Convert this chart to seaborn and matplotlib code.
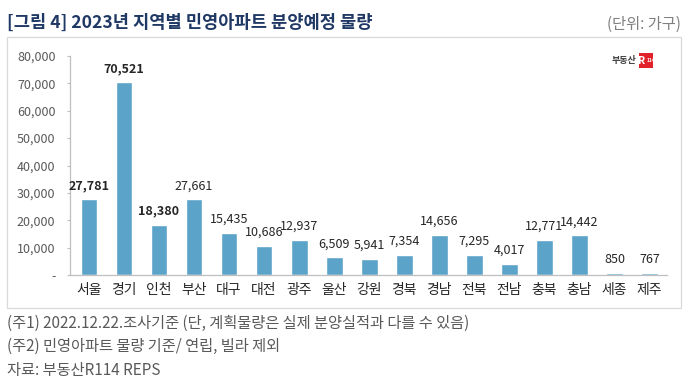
import matplotlib
matplotlib.use("Agg")
import matplotlib.pyplot as plt
from matplotlib.patches import Rectangle
import seaborn as sns
import pandas as pd

regions = ['서울', '경기', '인천', '부산', '대구', '대전', '광주', '울산', '강원',
           '경북', '경남', '전북', '전남', '충북', '충남', '세종', '제주']
units = [27781, 70521, 18380, 27661, 15435, 10686, 12937, 6509, 5941,
         7354, 14656, 7295, 4017, 12771, 14442, 850, 767]
bold_regions = ['서울', '경기', '인천']
y_ticks = [0, 10000, 20000, 30000, 40000, 50000, 60000, 70000, 80000]

sns.set_theme(style="white")
plt.rcParams['font.family'] = ['Noto Sans CJK KR', 'DejaVu Sans']

df = pd.DataFrame({'region': regions, 'units': units})

fig = plt.figure(figsize=(6.89, 3.87), dpi=100)
ax = fig.add_axes([0.1016, 0.2894, 0.8664, 0.5659])

sns.barplot(data=df, x='region', y='units', color='#5BA3C8', width=0.48,
            saturation=1, ax=ax)

ax.set_xlim(-0.54, 16.5)
ax.set_ylim(0, 80000)
ax.set_yticks(y_ticks)
ax.set_yticklabels(['-' if v == 0 else f'{v:,}' for v in y_ticks],
                   fontsize=9, color='#595959')
ax.tick_params(axis='y', length=2.5, width=0.8, color='#bfbfbf', pad=8, left=True)
ax.tick_params(axis='x', length=0, labelsize=10, labelcolor='#262626', pad=6)
ax.set_xlabel('')
ax.set_ylabel('')
for side in ['top', 'right']:
    ax.spines[side].set_visible(False)
for side in ['left', 'bottom']:
    ax.spines[side].set_color('#bfbfbf')
    ax.spines[side].set_linewidth(0.9)

for i, (r, v) in enumerate(zip(regions, units)):
    ax.annotate(f'{v:,}', (i, v), xytext=(0, 5), textcoords='offset points',
                ha='center', va='bottom', fontsize=9, color='#262626',
                fontweight='bold' if r in bold_regions else 'normal')

# frame around chart
fig.patches.append(Rectangle((7 / 689, 1 - 308 / 387), 674 / 689, 271 / 387,
                             transform=fig.transFigure, fill=False,
                             edgecolor='#d9d9d9', linewidth=0.9))

fig.text(7 / 689, 1 - 23 / 387, '[그림 4] 2023년 지역별 민영아파트 분양예정 물량',
         fontsize=12.7, fontweight='bold', color='#1f3864', va='center', ha='left')
fig.text(681 / 689, 1 - 24 / 387, '(단위: 가구)', fontsize=11, color='#7f7f7f',
         va='center', ha='right')

# logo
fig.patches.append(Rectangle((639 / 689, 1 - 68 / 387), 14 / 689, 15 / 387,
                             transform=fig.transFigure, facecolor='#e2222b',
                             edgecolor='none'))
fig.text(636 / 689, 1 - 61 / 387, '부동산', fontsize=6.5, color='#404040',
         va='center', ha='right', fontweight='bold')
fig.text(645.5 / 689, 1 - 61 / 387, 'R', fontsize=7.5, color='white', va='center',
         ha='right', fontweight='bold')
fig.text(646.5 / 689, 1 - 61 / 387, '114', fontsize=3.5, color='white', va='center',
         ha='left', fontweight='bold')

notes = ['(주1) 2022.12.22.조사기준 (단, 계획물량은 실제 분양실적과 다를 수 있음)',
         '(주2) 민영아파트 물량 기준/ 연립, 빌라 제외',
         '자료: 부동산R114 REPS']
for k, line in enumerate(notes):
    fig.text(7 / 689, 1 - (323 + 23.5 * k) / 387, line, fontsize=11,
             color='#595959', va='center', ha='left')

fig.savefig('out.png', dpi=100)
